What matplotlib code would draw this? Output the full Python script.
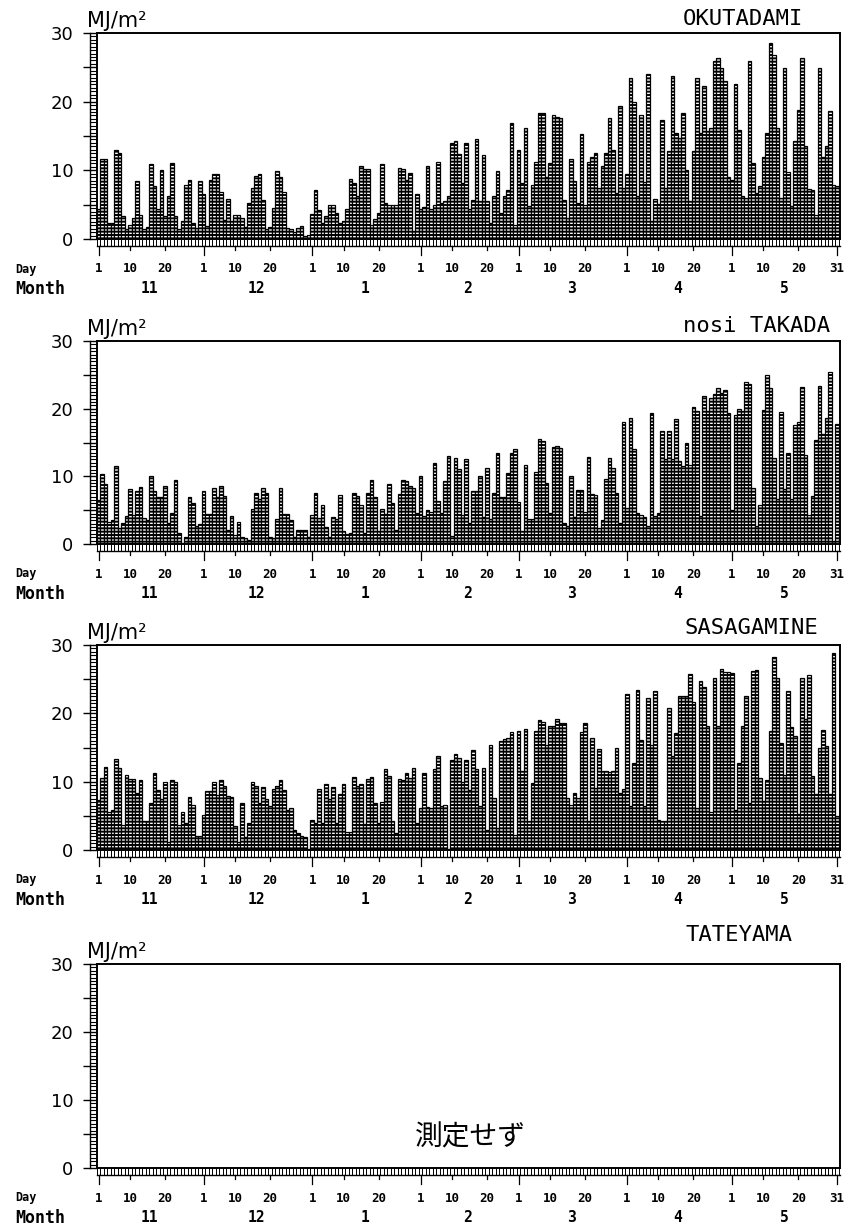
import numpy as np
import matplotlib.pyplot as plt
from matplotlib.ticker import MultipleLocator, FuncFormatter

plt.rcParams['hatch.linewidth'] = 1.4
plt.rcParams['hatch.color'] = 'black'

# x axis: Nov 1 .. May 31
month_labels = ['11', '12', '1', '2', '3', '4', '5']
month_days = [30, 31, 31, 28, 31, 30, 31]
day_marks = [1, 10, 20]

# daily radiation (MJ/m2), month by month
okutadami = [
    # Nov
    4.4, 11.6, 11.7, 2.4, 2.4, 12.9, 12.5, 3.4, 1.4, 2.0, 3.0, 8.4, 3.5, 1.4, 1.8,
    10.9, 7.7, 4.3, 10.0, 3.3, 6.2, 11.0, 3.3, 1.4, 2.6, 7.8, 8.6, 2.3, 1.6, 8.4,
    # Dec
    6.5, 1.9, 8.6, 9.5, 9.5, 6.8, 2.8, 5.8, 2.6, 3.5, 3.5, 3.1, 1.8, 5.3, 7.4, 9.2,
    9.5, 5.7, 1.4, 1.8, 4.5, 9.9, 9.1, 6.9, 1.6, 1.5, 1.0, 1.6, 1.9, 0.4, 0.6,
    # Jan
    3.7, 7.1, 4.2, 2.4, 3.4, 5.0, 4.9, 3.8, 2.4, 2.6, 4.4, 8.7, 8.1, 6.2, 10.7, 10.2,
    10.2, 2.1, 2.9, 3.8, 10.9, 5.2, 5.0, 4.9, 5.0, 10.3, 10.2, 8.6, 9.6, 1.1, 6.5,
    # Feb
    4.4, 4.7, 10.6, 4.3, 5.0, 11.2, 5.2, 5.5, 6.2, 14.0, 14.2, 12.4, 8.2, 14.0,
    4.3, 5.7, 14.5, 5.5, 12.3, 5.5, 2.3, 6.2, 9.9, 3.8, 6.2, 7.1, 16.9, 2.1,
    # Mar
    13.0, 8.2, 16.2, 4.8, 7.9, 11.2, 18.4, 18.4, 9.1, 11.0, 18.1, 17.8, 17.6, 5.7,
    3.1, 11.7, 8.4, 5.3, 15.3, 5.0, 11.2, 12.0, 12.5, 7.4, 10.7, 12.5, 17.6, 13.0,
    6.7, 19.4, 7.4,
    # Apr
    9.4, 23.4, 20.0, 6.2, 18.0, 8.3, 24.1, 2.6, 5.8, 5.1, 17.4, 7.4, 12.8, 23.8,
    15.4, 14.7, 18.4, 10.1, 5.5, 12.8, 23.4, 15.4, 22.3, 15.7, 16.2, 25.9, 26.4,
    24.9, 23.0, 9.1,
    # May
    8.6, 22.5, 15.9, 6.2, 6.0, 25.9, 11.1, 6.7, 7.7, 12.0, 15.5, 28.6, 26.8, 16.2,
    6.0, 24.9, 9.7, 4.8, 14.2, 18.8, 26.4, 13.6, 7.3, 7.2, 3.5, 24.9, 12.0, 13.5,
    18.6, 7.9, 7.7,
]

takada = [
    # Nov
    6.5, 10.4, 8.9, 3.3, 3.5, 11.6, 2.4, 3.1, 4.1, 8.1, 4.3, 7.9, 8.4, 3.8, 3.6,
    10.0, 7.9, 7.0, 7.0, 8.6, 3.1, 4.6, 9.4, 1.6, 0.1, 1.1, 7.0, 6.0, 2.6, 2.9,
    # Dec
    7.8, 4.4, 4.4, 8.3, 7.0, 8.5, 7.1, 2.1, 4.2, 1.4, 3.2, 1.1, 0.9, 0.6, 5.2, 7.5,
    6.7, 8.3, 7.5, 1.1, 0.9, 3.7, 8.3, 4.4, 4.5, 3.6, 1.1, 2.0, 2.1, 2.1, 1.1,
    # Jan
    4.3, 7.5, 3.8, 5.7, 2.5, 1.1, 4.0, 3.7, 7.3, 1.9, 1.5, 1.6, 7.5, 7.1, 5.7, 1.6,
    7.6, 9.5, 7.0, 1.9, 5.1, 4.5, 8.9, 6.0, 2.1, 7.4, 9.4, 9.3, 8.5, 8.3, 4.6,
    # Feb
    10.1, 4.1, 5.0, 4.8, 12.0, 6.3, 4.6, 9.3, 13.0, 1.2, 12.7, 11.1, 4.3, 12.5,
    3.1, 7.9, 7.9, 10.1, 4.0, 11.2, 3.7, 7.5, 13.4, 6.9, 7.0, 10.5, 13.5, 14.0,
    # Mar
    6.2, 1.9, 11.7, 3.7, 3.7, 10.6, 15.5, 15.2, 9.0, 4.6, 14.4, 14.5, 14.2, 3.1,
    2.6, 10.1, 4.0, 8.0, 8.0, 4.8, 12.9, 7.4, 7.3, 2.4, 3.6, 9.6, 12.7, 11.2, 7.5,
    3.1, 18.1,
    # Apr
    5.3, 18.6, 14.0, 4.6, 4.3, 4.0, 2.7, 19.4, 4.1, 4.6, 16.7, 12.5, 16.7, 12.5,
    18.5, 12.2, 11.6, 14.9, 11.7, 20.2, 19.6, 4.1, 21.9, 19.6, 21.6, 22.2, 23.1,
    22.3, 22.8, 19.4,
    # May
    5.0, 19.1, 19.9, 19.6, 23.9, 23.7, 8.3, 2.6, 5.8, 19.8, 25.0, 23.1, 12.7, 6.6,
    19.5, 8.1, 13.5, 6.6, 17.6, 18.1, 23.2, 13.2, 4.3, 7.1, 15.4, 23.3, 16.3, 18.6,
    25.4, 0.4, 17.8,
]

sasagamine = [
    # Nov
    7.3, 10.5, 12.1, 5.6, 5.9, 13.3, 12.0, 3.7, 11.0, 10.4, 10.4, 8.4, 10.2, 4.2,
    4.2, 6.9, 11.2, 8.8, 7.4, 9.9, 1.2, 10.3, 10.0, 3.7, 5.5, 3.9, 7.8, 6.6, 2.0, 2.0,
    # Dec
    5.1, 8.7, 8.7, 10.0, 8.1, 10.3, 9.3, 7.9, 7.8, 3.5, 1.2, 6.9, 1.9, 4.0, 9.9, 9.4,
    6.9, 9.2, 7.5, 6.4, 8.9, 9.3, 10.2, 8.8, 5.9, 6.1, 2.9, 2.5, 2.0, 1.9, 0.2,
    # Jan
    4.4, 3.9, 8.9, 3.9, 9.6, 7.4, 9.2, 3.9, 8.2, 9.7, 2.7, 2.7, 10.7, 9.3, 9.7, 3.8,
    10.4, 10.7, 6.9, 3.9, 7.0, 11.9, 10.9, 4.2, 2.5, 10.4, 10.3, 11.2, 10.5, 12.0, 3.9,
    # Feb
    6.1, 11.3, 6.3, 6.1, 11.9, 13.8, 6.4, 6.6, 0.1, 13.2, 14.1, 13.5, 9.9, 13.2,
    8.8, 14.6, 11.8, 6.4, 12.0, 2.9, 15.4, 7.6, 3.2, 15.9, 16.2, 16.4, 17.2, 2.2,
    # Mar
    17.4, 11.5, 17.7, 4.2, 9.8, 17.4, 19.0, 18.7, 15.4, 18.2, 18.1, 19.2, 18.6, 18.6,
    7.6, 6.6, 8.4, 7.6, 17.2, 18.6, 4.2, 16.4, 9.1, 14.8, 11.5, 11.5, 11.4, 11.5,
    15.0, 8.3, 8.9,
    # Apr
    22.9, 6.4, 12.7, 23.4, 16.1, 6.5, 22.3, 15.3, 23.3, 4.4, 4.2, 4.2, 20.8, 13.7,
    17.1, 22.6, 22.5, 22.5, 25.7, 21.6, 6.1, 24.8, 23.8, 18.2, 5.6, 25.2, 18.2,
    26.5, 26.0, 26.0,
    # May
    25.9, 5.9, 12.7, 18.2, 22.5, 6.9, 26.2, 26.4, 10.5, 7.1, 10.3, 17.4, 28.2, 25.2,
    15.6, 11.0, 23.3, 18.0, 16.7, 5.3, 25.2, 19.1, 25.6, 10.8, 8.2, 15.0, 17.6,
    15.2, 8.2, 28.9, 5.0,
]

stations = ['OKUTADAMI', 'nosi TAKADA', 'SASAGAMINE', 'TATEYAMA']
series = [okutadami, takada, sasagamine, None]   # Tateyama: not measured

# layout in pixels of the 851x1229 page: (frame top, zero line)
W, H = 851, 1229
frames = [(33, 239), (341, 544), (645, 850), (964, 1168)]
title_pos = [(803, 19), (830, 326), (818, 628), (793, 935)]
left, right = 97, 840

ndays = sum(month_days)
starts = np.cumsum([0] + month_days[:-1])
mono = 'DejaVu Sans Mono'

fig = plt.figure(figsize=(W / 100, H / 100), dpi=100)

for k, (top, zero) in enumerate(frames):
    hpx = zero - top
    ax = fig.add_axes([left / W, 1 - zero / H, (right - left) / W, hpx / H])

    vals = series[k]
    if vals is not None:
        ax.bar(np.arange(ndays), vals, width=1, align='edge', color='white',
               edgecolor='black', linewidth=0.9, hatch='-----')

    ax.set_xlim(0, ndays + 0.4)
    ax.set_ylim(0, 30)
    for sp in ax.spines.values():
        sp.set_linewidth(1.4)

    # y axis: ladder of 0.5 steps, ticks every 5, labels every 10
    ax.yaxis.set_major_locator(MultipleLocator(5))
    ax.yaxis.set_minor_locator(MultipleLocator(0.5))
    ax.yaxis.set_major_formatter(FuncFormatter(lambda v, p: f'{v:.0f}' if v % 10 == 0 else ''))
    ax.tick_params(axis='y', which='major', length=10, width=1.0, pad=7, labelsize=13)
    ax.tick_params(axis='y', which='minor', length=5, width=0.8)
    ax.plot([-7 / (right - left)] * 2, [0, 1], transform=ax.transAxes,
            clip_on=False, color='black', lw=1.0)

    # x axis: ladder of days below the zero line
    ax.set_xticks([])
    ax.set_xticks(np.arange(ndays + 1), minor=True)
    ax.tick_params(axis='x', which='minor', length=5, width=0.7)
    ax.plot([0, 1], [-7 / hpx] * 2, transform=ax.transAxes,
            clip_on=False, color='black', lw=1.0)

    trans = ax.get_xaxis_transform()
    for m, s in enumerate(starts):
        for d in day_marks:
            x = s + d - 0.5
            low = 16 if d == 1 else 11
            ax.plot([x, x], [-7 / hpx, -low / hpx], transform=trans,
                    clip_on=False, color='black', lw=0.9)
            ax.text(x, -30 / hpx, str(d), transform=trans, ha='center', va='center',
                    fontsize=9, fontweight='bold', family=mono)
        ax.text(s + month_days[m] / 2, -50 / hpx, month_labels[m], transform=trans,
                ha='center', va='center', fontsize=10.5, fontweight='bold', family=mono)
    x = ndays - 0.5
    ax.plot([x, x], [-7 / hpx, -16 / hpx], transform=trans,
            clip_on=False, color='black', lw=0.9)
    ax.text(x, -30 / hpx, str(month_days[-1]), transform=trans, ha='center',
            va='center', fontsize=9, fontweight='bold', family=mono)

    fig.text(15 / W, 1 - (zero + 30) / H, 'Day', ha='left', va='center',
             fontsize=8.5, fontweight='bold', family=mono)
    fig.text(15 / W, 1 - (zero + 50) / H, 'Month', ha='left', va='center',
             fontsize=12, fontweight='bold', family=mono)

    fig.text(87 / W, 1 - (top - 12) / H, 'MJ/m²', ha='left', va='center', fontsize=15)
    tx, ty = title_pos[k]
    fig.text(tx / W, 1 - ty / H, stations[k], ha='right', va='center',
             fontsize=16, family=mono)

    if vals is None:
        fig.text(470 / W, 1 - 1137 / H, '測定せず', ha='center', va='center',
                 fontsize=20, family=['Noto Sans CJK JP', 'DejaVu Sans'])

fig.savefig('out.png', dpi=100)
